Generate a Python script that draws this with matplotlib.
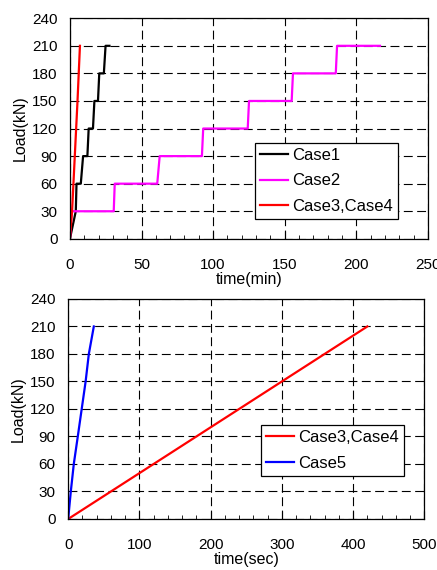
import numpy as np
import matplotlib
matplotlib.use("Agg")
import matplotlib.pyplot as plt
from matplotlib.ticker import MultipleLocator

plt.rcParams['font.family'] = ['Liberation Sans', 'DejaVu Sans']

# Data, top chart (time in min)
case1_t = [0, 4.1, 4.6, 7.6, 9.2, 12.2, 13.1, 16.1, 17.1, 19.6, 20.5, 23.7, 24.9, 27.6]
case1_load = [0, 30, 60, 60, 90, 90, 120, 120, 150, 150, 180, 180, 210, 210]

case2_t = [0, 1.2, 30.6, 31.3, 61.0, 62.7, 92.2, 93.1, 124.2, 125.1, 154.9, 155.8, 185.7, 186.6, 216.6]
case2_load = [0, 30, 30, 60, 60, 90, 90, 120, 120, 150, 150, 180, 180, 210, 210]

case34_t_min = [0, 1.5, 5.3, 7.0]
case34_load_min = [0, 30, 150, 210]

# Data, bottom chart (time in sec)
case34_t_sec = [0, 420]
case34_load_sec = [0, 210]

case5_t = [0, 3.7, 7.9, 13.5, 19.0, 24.5, 29.0, 36.0]
case5_load = [0, 30, 60, 90, 120, 150, 180, 210]

fig = plt.figure(figsize=(4.37, 5.70), dpi=100)
ax1 = fig.add_axes([0.160, 0.581, 0.819, 0.387])
ax2 = fig.add_axes([0.156, 0.0895, 0.815, 0.386])


def style_axes(ax, xmax, xmajor, xminor, xlabel):
    ax.set_xlim(0, xmax)
    ax.set_ylim(0, 240)
    ax.xaxis.set_major_locator(MultipleLocator(xmajor))
    ax.xaxis.set_minor_locator(MultipleLocator(xminor))
    ax.yaxis.set_major_locator(MultipleLocator(30))
    ax.grid(True, which='major', color='black', linestyle=(0, (8, 4)), linewidth=0.8)
    ax.tick_params(axis='both', which='both', direction='in', labelsize=11)
    ax.tick_params(axis='x', which='major', length=6, pad=14)
    ax.tick_params(axis='x', which='minor', length=3)
    ax.tick_params(axis='y', which='major', length=0, pad=9)
    for s in ax.spines.values():
        s.set_linewidth(0.9)
    ax.set_xlabel(xlabel, fontsize=11.5, labelpad=0)
    ax.set_ylabel('Load(kN)', fontsize=11.5, labelpad=3)
    ax.set_axisbelow(True)


def add_legend(ax, anchor):
    leg = ax.legend(loc='upper left', bbox_to_anchor=anchor, fontsize=12,
                    frameon=True, fancybox=False, edgecolor='black', framealpha=1,
                    handlelength=1.7, handletextpad=0.25, borderpad=0.3,
                    labelspacing=0.65, borderaxespad=0)
    leg.get_frame().set_linewidth(0.9)


ax1.plot(case1_t, case1_load, color='black', lw=1.6, label='Case1')
ax1.plot(case2_t, case2_load, color='#ff00ff', lw=1.6, label='Case2')
ax1.plot(case34_t_min, case34_load_min, color='red', lw=1.6, label='Case3,Case4')
style_axes(ax1, 250, 50, 10, 'time(min)')
add_legend(ax1, (0.517, 0.436))

ax2.plot(case34_t_sec, case34_load_sec, color='red', lw=1.6, label='Case3,Case4')
ax2.plot(case5_t, case5_load, color='blue', lw=1.6, label='Case5')
style_axes(ax2, 500, 100, 20, 'time(sec)')
add_legend(ax2, (0.541, 0.427))

fig.savefig('out.png', dpi=100)
